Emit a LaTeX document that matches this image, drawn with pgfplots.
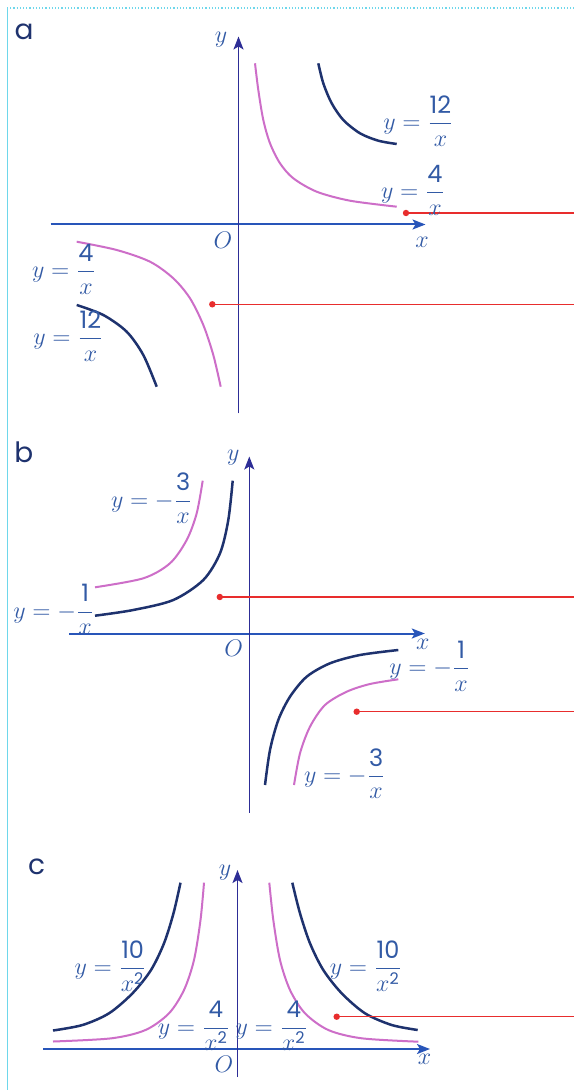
\documentclass[border=0pt]{standalone}
\usepackage{amsmath}
\usepackage{fontspec}
\setsansfont{Poppins}
\usepackage{pgfplots}
\pgfplotsset{compat=1.18}
\usetikzlibrary{arrows.meta}
\definecolor{axblue}{RGB}{40,85,185}
\definecolor{axnavy}{RGB}{45,45,150}
\definecolor{cNavy}{RGB}{30,50,110}
\definecolor{cPink}{RGB}{205,110,200}
\definecolor{cRed}{RGB}{232,45,45}
\definecolor{cText}{RGB}{50,90,165}
\definecolor{cBorder}{RGB}{110,215,235}
% 1 px of the reference = 0.5pt
\pgfplotsset{hyp/.style={x=0.5pt,y=0.5pt,axis lines=middle,ticks=none,enlargelimits=false,
  clip=false,anchor=south west,
  x axis line style={axblue,line width=1pt,-{Stealth[length=6.5pt,width=5pt,inset=1.5pt]}},
  y axis line style={axnavy,line width=0.8pt,-{Stealth[length=6.5pt,width=5pt,inset=1.5pt]}}},
  navy/.style={cNavy,line width=1.25pt,smooth},
  pink/.style={cPink,line width=1pt,smooth},
  redl/.style={cRed,line width=0.75pt,mark=*,mark indices={1},mark size=1.2pt,mark options={fill=cRed,draw=cRed}}}
\tikzset{lbl/.style={text=cText,font=\fontsize{12}{14}\selectfont,inner sep=0pt},
  pan/.style={text=cNavy,font=\sffamily\fontsize{14}{16}\selectfont,inner sep=0pt}}
\newcommand{\n}[1]{\mathsf{#1}}
\begin{document}
\begin{tikzpicture}
\fill[white] (0,0) rectangle (287pt,-545pt);
\path[use as bounding box] (0,0) rectangle (287pt,-545pt);
\draw[cBorder,line width=0.6pt,densely dotted] (3.5pt,-4pt) -- (287pt,-4pt);
\draw[cBorder,line width=0.8pt] (3.75pt,-4pt) -- (3.75pt,-545pt);

% panel a
\begin{axis}[hyp,at={(25.25pt,-206.75pt)},xmin=-188,xmax=187,ymin=-189,ymax=188]
  \addplot[pink] coordinates {(16.5,161.2) (19.8,134.5) (24.8,104.5) (31.5,81.2) (41.5,61.2) (54.8,46.2) (78.2,32.8) (111.5,23.8) (158.2,17.8)};
  \addplot[navy] coordinates {(79.8,161.2) (84.8,141.2) (93.2,121.2) (104.8,104.5) (121.5,91.2) (139.8,83.8) (158.2,80.5)};
  \addplot[pink] coordinates {(-161.8,-17.2) (-121.8,-25.5) (-88.5,-37.2) (-65.2,-53.8) (-48.5,-73.8) (-35.2,-100.5) (-25.2,-130.5) (-17.8,-162.2)};
  \addplot[navy] coordinates {(-161.8,-80.5) (-135.2,-90.5) (-111.8,-107.2) (-95.2,-130.5) (-81.8,-162.2)};
  \addplot[redl] coordinates {(167.5,11.5) (335.5,11.5)};
  \addplot[redl] coordinates {(-26.2,-79.8) (335.5,-79.8)};
  \node[pan] at (axis cs:-214.5,192.5) {a};
  \node[lbl] at (axis cs:-17.5,184.5) {$y$};
  \node[lbl] at (axis cs:183.5,-17.5) {$x$};
  \node[lbl] at (axis cs:-15.5,-15.5) {$O$};
  \node[lbl] at (axis cs:180,103.5) {$y=\dfrac{\n{12}}{x}$};
  \node[lbl] at (axis cs:174.5,34) {$y=\dfrac{\n{4}}{x}$};
  \node[lbl] at (axis cs:-174.5,-45) {$y=\dfrac{\n{4}}{x}$};
  \node[lbl] at (axis cs:-170,-111.5) {$y=\dfrac{\n{12}}{x}$};
\end{axis}

% panel b
\begin{axis}[hyp,at={(34.65pt,-406.25pt)},xmin=-180,xmax=175.5,ymin=-179,ymax=177]
  \addplot[navy] coordinates {(-154.3,17.8) (-116,23.5) (-76,33.5) (-46,53.5) (-29.3,80.2) (-21,113.5) (-16.6,152.8)};
  \addplot[pink] coordinates {(-154.3,46.2) (-106,55.2) (-79.3,70.2) (-62.6,93.5) (-52.6,120.2) (-46.6,152.8)};
  \addplot[navy] coordinates {(15.7,-151.5) (20.7,-116.5) (29,-86.5) (40.7,-63.2) (57.4,-43.2) (80.7,-29.8) (110.7,-21.5) (149,-16.5)};
  \addplot[pink] coordinates {(44.7,-151.5) (50.7,-119.8) (60.7,-93.2) (75.7,-71.5) (97.4,-58.2) (120.7,-50.5) (149,-45.8)};
  \addplot[redl] coordinates {(-29.5,36.5) (324.7,36.5)};
  \addplot[redl] coordinates {(107.4,-78.2) (324.7,-78.2)};
  \node[pan] at (axis cs:-225.5,181) {b};
  \node[lbl] at (axis cs:-16,176) {$y$};
  \node[lbl] at (axis cs:173.5,-11) {$x$};
  \node[lbl] at (axis cs:-15.5,-15) {$O$};
  \node[lbl] at (axis cs:-97.5,135) {$y=-\dfrac{\n{3}}{x}$};
  \node[lbl] at (axis cs:-195.5,24) {$y=-\dfrac{\n{1}}{x}$};
  \node[lbl] at (axis cs:180.5,-32.5) {$y=-\dfrac{\n{1}}{x}$};
  \node[lbl] at (axis cs:95.5,-140) {$y=-\dfrac{\n{3}}{x}$};
\end{axis}

% panel c
\begin{axis}[hyp,at={(21.5pt,-538.5pt)},xmin=-194.5,xmax=192.5,ymin=-28,ymax=179]
  \addplot[navy] coordinates {(54.8,166.3) (62.5,135.7) (72.5,105.7) (85.8,79) (104.2,55.7) (127.5,35.7) (154.2,24) (180.2,19)};
  \addplot[pink] coordinates {(31.8,166.3) (35.8,129) (42.5,89) (52.5,59) (67.5,35.7) (90.8,19) (124.2,10.7) (180.8,7.3)};
  \addplot[navy] coordinates {(-57,166.3) (-64,135.7) (-73.5,105.7) (-86.5,79) (-105,55.7) (-128.5,35.7) (-155,24) (-184.5,18.5)};
  \addplot[pink] coordinates {(-33.5,166.3) (-37,129) (-43.5,89) (-53.5,59) (-68.5,35.7) (-92,19) (-126,10.7) (-184.5,7.5)};
  \addplot[redl] coordinates {(99.2,32.3) (336.5,32.3)};
  \node[pan] at (axis cs:-201,182) {c};
  \node[lbl] at (axis cs:-12.5,176) {$y$};
  \node[lbl] at (axis cs:187,-10) {$x$};
  \node[lbl] at (axis cs:-13.5,-15) {$O$};
  \node[lbl] at (axis cs:-126.8,83) {$y=\dfrac{\n{10}}{x^{\n{2}}}$};
  \node[lbl] at (axis cs:128.5,83) {$y=\dfrac{\n{10}}{x^{\n{2}}}$};
  \node[lbl,font=\fontsize{11.5}{13}\selectfont] at (axis cs:-43.5,23) {$y=\dfrac{\n{4}}{x^{\n{2}}}$};
  \node[lbl,font=\fontsize{11.5}{13}\selectfont] at (axis cs:34.3,23) {$y=\dfrac{\n{4}}{x^{\n{2}}}$};
\end{axis}
\end{tikzpicture}
\end{document}
